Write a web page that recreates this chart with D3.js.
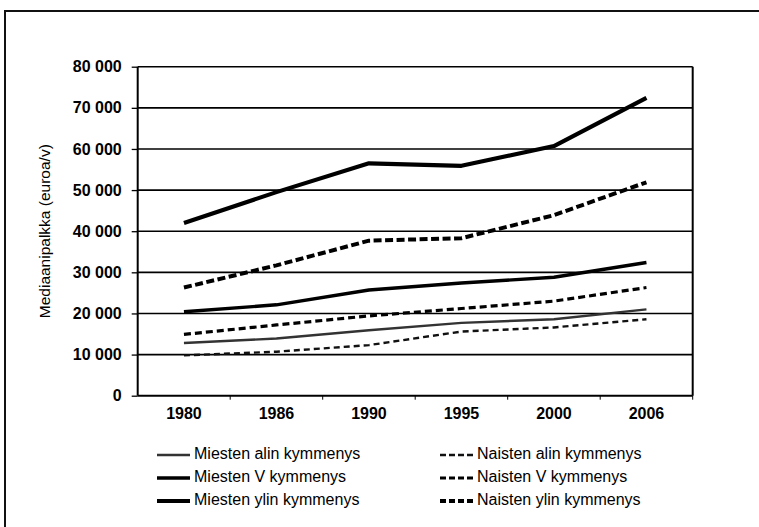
<!DOCTYPE html>
<html>
<head>
<meta charset="utf-8">
<script src="https://cdn.jsdelivr.net/npm/d3@7"></script>
<style>
  body { margin:0; background:#fff; }
  svg { font-family: "Liberation Sans", Arial, sans-serif; }
</style>
</head>
<body>
<div id="chart"></div>
<script>
// vuodet ja sarjat
var years = ["1980", "1986", "1990", "1995", "2000", "2006"];
var miestenAlin = [12800, 13900, 15900, 17700, 18600, 21000];
var miestenV    = [20400, 22100, 25700, 27400, 28800, 32400];
var miestenYlin = [42000, 49500, 56500, 55900, 60700, 72400];
var naistenAlin = [9800, 10700, 12300, 15600, 16600, 18600];
var naistenV    = [14900, 17200, 19400, 21200, 23000, 26300];
var naistenYlin = [26300, 31700, 37700, 38300, 43900, 51900];
var yTicks = [0, 10000, 20000, 30000, 40000, 50000, 60000, 70000, 80000];

var series = [
  {name: "Miesten alin kymmenys",  values: miestenAlin, w: 2.4, dash: null,  color: "#333"},
  {name: "Miesten V kymmenys",     values: miestenV,    w: 3.4, dash: null,  color: "#000"},
  {name: "Miesten ylin kymmenys",  values: miestenYlin, w: 4.2, dash: null,  color: "#000"},
  {name: "Naisten alin kymmenys",  values: naistenAlin, w: 2.4, dash: "6,4", color: "#111"},
  {name: "Naisten V kymmenys",     values: naistenV,    w: 3.2, dash: "7,4", color: "#000"},
  {name: "Naisten ylin kymmenys",  values: naistenYlin, w: 4.0, dash: "8,3.5", color: "#000"}
];

function draw() {
  var W = 759, H = 527;
  var pLeft = 137.7, pRight = 692.7, pTop = 66.7, pBottom = 395.7;

  var svg = d3.select("#chart").append("svg")
      .attr("width", W).attr("height", H);

  // ulkokehys (vain vasen ja yläreuna näkyvät)
  svg.append("path")
      .attr("d", "M5,527 L5,11 L759,11")
      .attr("fill", "none").attr("stroke", "#111").attr("stroke-width", 2);

  var x = d3.scaleBand().domain(years).range([pLeft, pRight]).padding(0);
  var y = d3.scaleLinear().domain([0, 80000]).range([pBottom, pTop]);

  var fi = d3.formatLocale({decimal: ",", thousands: " ", grouping: [3], currency: ["", ""]});
  var fmt = fi.format(",");

  // y-akseli
  var yAxis = svg.append("g")
      .attr("transform", "translate(" + pLeft + ",0)")
      .call(d3.axisLeft(y).tickValues(yTicks).tickFormat(fmt).tickSizeOuter(0).tickSizeInner(6).tickPadding(10));
  yAxis.select(".domain").remove();
  yAxis.selectAll("line").attr("stroke", "#000").attr("stroke-width", 1.3);
  yAxis.selectAll("text").attr("fill", "#000").attr("font-weight", "bold")
      .attr("font-family", "'Liberation Sans', Arial, sans-serif")
      .style("font-size", "16px");

  // ruudukko
  svg.append("g")
      .selectAll("line")
      .data(yTicks.filter(function(d){ return d > 0; }))
      .enter().append("line")
      .attr("x1", pLeft).attr("x2", pRight)
      .attr("y1", function(d){ return y(d); }).attr("y2", function(d){ return y(d); })
      .attr("stroke", "#000").attr("stroke-width", 1.6);

  // x-akseli
  var xAxis = svg.append("g")
      .attr("transform", "translate(0," + pBottom + ")")
      .call(d3.axisBottom(x).tickSize(0).tickPadding(12));
  xAxis.select(".domain").remove();
  xAxis.selectAll("text").attr("fill", "#000").attr("font-weight", "bold")
      .attr("font-family", "'Liberation Sans', Arial, sans-serif")
      .style("font-size", "16px");

  // pienet jakoviivat luokkien rajoilla
  svg.append("g").selectAll("line")
      .data(years.slice(1).concat(["end"]))
      .enter().append("line")
      .attr("x1", function(d){ return d === "end" ? pRight : x(d); })
      .attr("x2", function(d){ return d === "end" ? pRight : x(d); })
      .attr("y1", pBottom).attr("y2", pBottom + 4)
      .attr("stroke", "#000").attr("stroke-width", 1);

  // piirtoalueen kehys
  svg.append("line").attr("x1", pLeft).attr("x2", pRight).attr("y1", pBottom).attr("y2", pBottom)
      .attr("stroke", "#000").attr("stroke-width", 2);
  svg.append("line").attr("x1", pLeft).attr("x2", pLeft).attr("y1", pTop).attr("y2", pBottom)
      .attr("stroke", "#000").attr("stroke-width", 2);
  svg.append("line").attr("x1", pRight).attr("x2", pRight).attr("y1", pTop).attr("y2", pBottom)
      .attr("stroke", "#000").attr("stroke-width", 2);

  // y-akselin otsikko
  svg.append("text")
      .attr("transform", "translate(46," + ((pTop + pBottom) / 2) + ") rotate(-90)")
      .attr("text-anchor", "middle")
      .attr("dominant-baseline", "middle")
      .style("font-size", "15.5px")
      .attr("fill", "#000")
      .text("Mediaanipalkka (euroa/v)");

  // viivat
  var line = d3.line()
      .x(function(d, i){ return x(years[i]) + x.bandwidth() / 2; })
      .y(function(d){ return y(d); });

  svg.append("g").selectAll("path")
      .data(series)
      .enter().append("path")
      .attr("d", function(d){ return line(d.values); })
      .attr("fill", "none")
      .attr("stroke", function(d){ return d.color; })
      .attr("stroke-width", function(d){ return d.w; })
      .attr("stroke-dasharray", function(d){ return d.dash; })
      .attr("stroke-linejoin", "round");

  // selite
  var legend = svg.append("g").selectAll("g")
      .data(series)
      .enter().append("g")
      .attr("transform", function(d, i){
          var col = i < 3 ? 0 : 1;
          var row = i % 3;
          return "translate(" + (col === 0 ? 157 : 440) + "," + (455 + row * 23) + ")";
      });
  legend.append("line")
      .attr("x1", 0).attr("x2", 33).attr("y1", 0).attr("y2", 0)
      .attr("stroke", function(d){ return d.color; })
      .attr("stroke-width", function(d){ return d.w; })
      .attr("stroke-dasharray", function(d){ return d.dash ? "6,3" : null; });
  legend.append("text")
      .attr("x", 37).attr("y", 0)
      .attr("dominant-baseline", "middle")
      .style("font-size", "16px")
      .attr("fill", "#000")
      .text(function(d){ return d.name; });
}

draw();
</script>
</body>
</html>
